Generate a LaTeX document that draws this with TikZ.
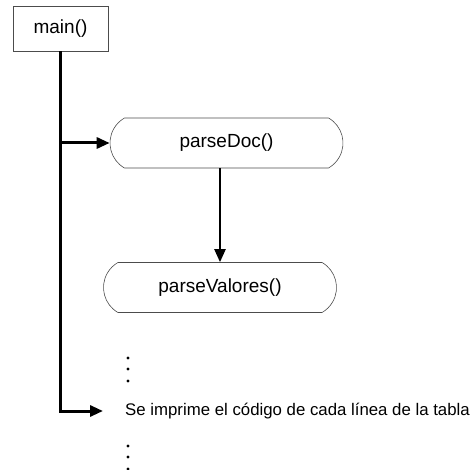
\documentclass[tikz,border=0pt]{standalone}
\usepackage{fontspec}
\setmainfont{Liberation Sans}
\usetikzlibrary{shapes.misc,arrows.meta}

\begin{document}
\begin{tikzpicture}[x=1pt,y=-1pt,
	every node/.style={font=\fontsize{19}{22}\selectfont, inner sep=0pt},
	box/.style={draw=black!70, line width=0.6pt, minimum width=95pt, minimum height=45pt},
	func/.style={draw=black!70, line width=0.6pt, rounded rectangle, rounded rectangle arc length=120, minimum width=233pt, minimum height=50pt},
	flow/.style={line width=3pt, -{Triangle[length=13pt,width=11pt]}}]

	\useasboundingbox (0,0) rectangle (471,470);

	\node[box] (main) at (60.5,28.5) {main()};
	\node[func] (doc) at (226.5,143) {parseDoc()};
	\node[func] (val) at (220,287.5) {parseValores()};
	\node[anchor=west, font=\fontsize{16.8}{20}\selectfont] (imp) at (125,411) {Se imprime el código de cada línea de la tabla};

	\coordinate (fork) at (main.south |- doc.west);
	\coordinate (corner) at (main.south |- imp.west);
	\coordinate (tip) at ([xshift=-22pt]imp.west);

	\draw[flow, line join=miter] (main.south) -- (corner) -- (tip);
	\draw[flow] (fork) -- (doc.west);
	\draw[flow, line width=2.2pt] (val.north |- doc.south) -- (val.north);

	% puntos suspensivos
	\foreach \y in {358,369,381,446,457,469}
		\fill (128,\y) circle (1.6pt);

\end{tikzpicture}
\end{document}
